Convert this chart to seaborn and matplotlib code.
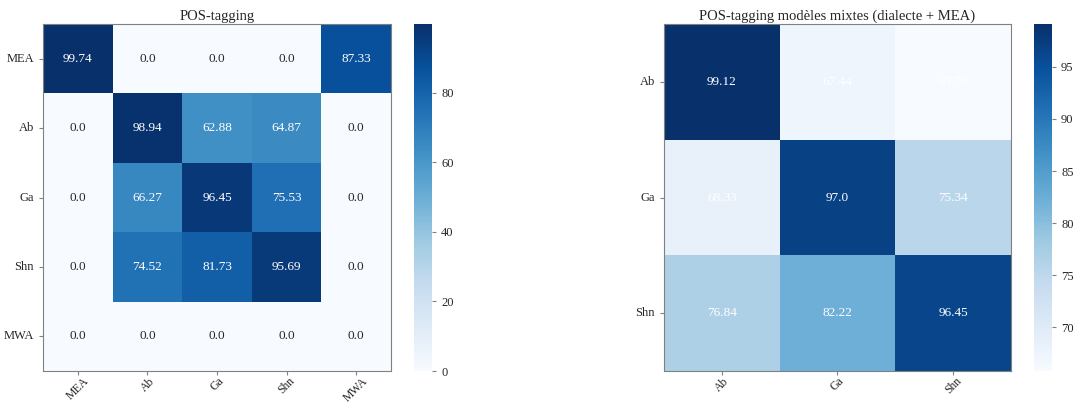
import numpy as np
import pandas as pd
import matplotlib
matplotlib.use("Agg")
import matplotlib.pyplot as plt
import seaborn as sns

sns.set_style("white")
plt.rcParams["font.family"] = ["Liberation Serif", "DejaVu Serif"]

labels_all = ["MEA", "Ab", "Ga", "Shn", "MWA"]
pos_values = [
    [99.74, 0.0, 0.0, 0.0, 87.33],
    [0.0, 98.94, 62.88, 64.87, 0.0],
    [0.0, 66.27, 96.45, 75.53, 0.0],
    [0.0, 74.52, 81.73, 95.69, 0.0],
    [0.0, 0.0, 0.0, 0.0, 0.0],
]

labels_mixed = ["Ab", "Ga", "Shn"]
mixed_values = [
    [99.12, 67.44, 65.79],
    [68.33, 97.0, 75.34],
    [76.84, 82.22, 96.45],
]

fig = plt.figure(figsize=(10.74, 4.03), dpi=100)
ax1 = fig.add_axes([0.040, 0.0794, 0.324, 0.861])
cax1 = fig.add_axes([0.3855, 0.0794, 0.0168, 0.861])
ax2 = fig.add_axes([0.6182, 0.0794, 0.3231, 0.861])
cax2 = fig.add_axes([0.9628, 0.0794, 0.0168, 0.861])


def draw(ax, cax, values, labels, title, kws):
    df = pd.DataFrame(values, index=labels, columns=labels)
    annot = df.map(lambda v: str(v))
    sns.heatmap(df, ax=ax, cbar_ax=cax, cmap="Blues", annot=annot, fmt="",
                annot_kws=kws)
    ax.set_title(title, fontsize=10.5, pad=3)
    for s in ax.spines.values():
        s.set_visible(True)
        s.set_color("grey")
    ax.tick_params(axis="both", which="both", length=3, color="grey",
                   left=True, bottom=True, labelsize=9)
    ax.tick_params(axis="x", pad=0, labelsize=8.5)
    ax.set_xticklabels(labels, rotation=45)
    ax.set_yticklabels(labels, rotation=0)
    cax.tick_params(length=3, color="grey", labelsize=9)
    cbar = ax.collections[0].colorbar
    cbar.outline.set_visible(True)
    cbar.outline.set_edgecolor("grey")


draw(ax1, cax1, pos_values, labels_all, "POS-tagging", {"fontsize": 9.5})
draw(ax2, cax2, mixed_values, labels_mixed,
     "POS-tagging modèles mixtes (dialecte + MEA)",
     {"fontsize": 9.5, "color": "white"})
ax1.collections[0].colorbar.set_ticks([0, 20, 40, 60, 80])
ax2.collections[0].colorbar.set_ticks([70, 75, 80, 85, 90, 95])

fig.savefig("out.png", dpi=100)
